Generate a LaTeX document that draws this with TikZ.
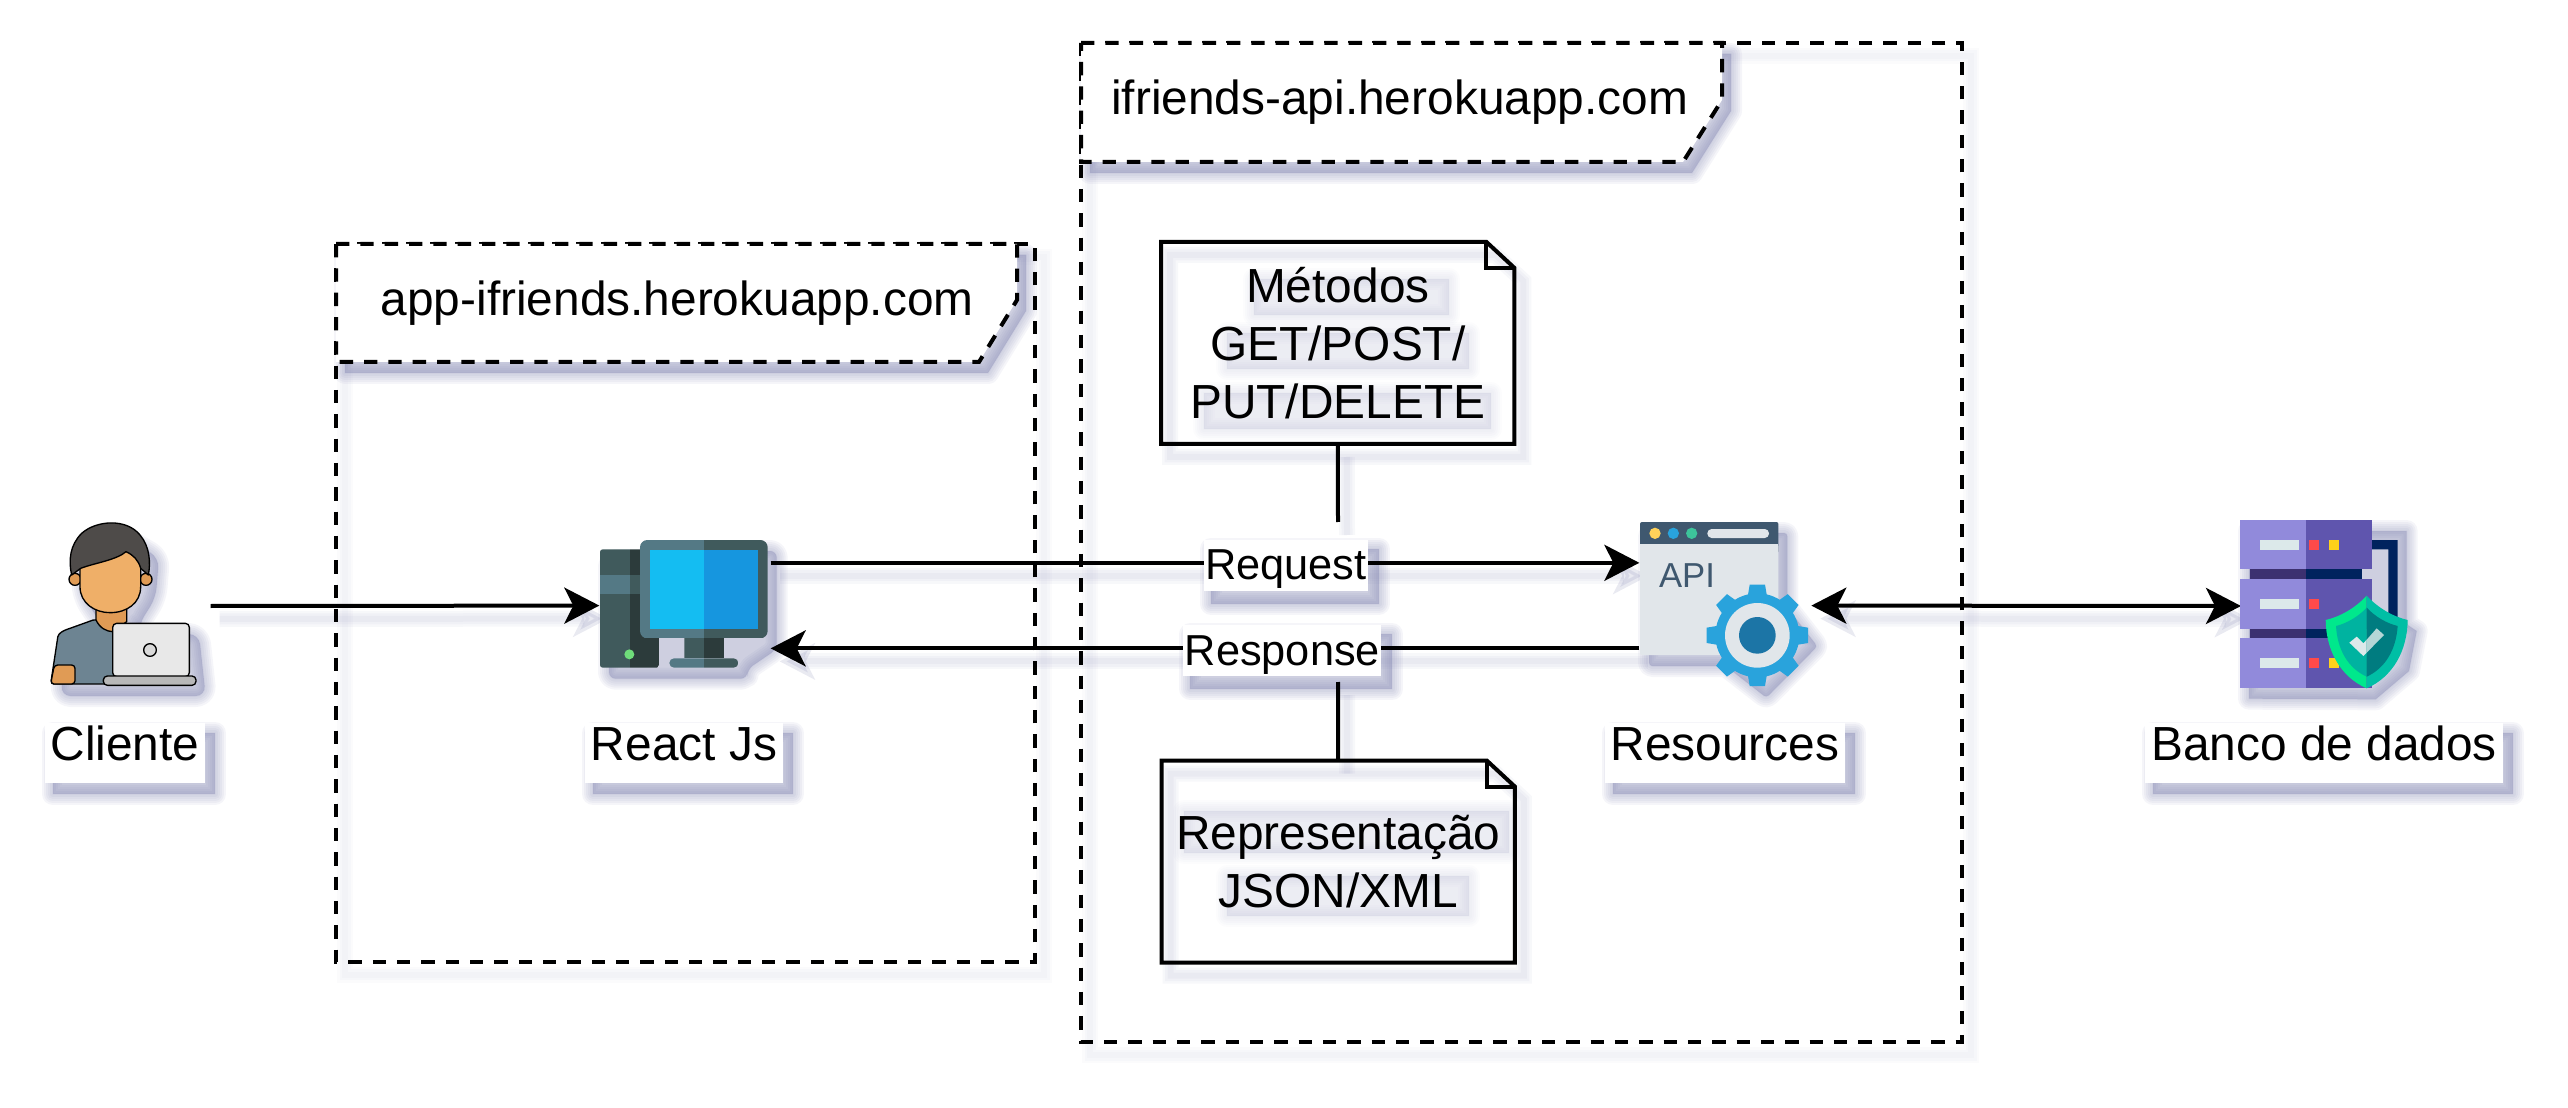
\documentclass[tikz,border=0pt]{standalone}
\usepackage{fontspec}
\setmainfont{Liberation Sans}
\usetikzlibrary{arrows.meta,calc}
\definecolor{shadowc}{HTML}{7478A8}
\definecolor{slateA}{HTML}{547985}
\definecolor{slateB}{HTML}{405A5C}
\definecolor{slateC}{HTML}{2C3B3B}
\definecolor{screenL}{HTML}{14BDF2}
\definecolor{screenR}{HTML}{1696DF}
\definecolor{ledgreen}{HTML}{6FDC7A}
\definecolor{apibar}{HTML}{3F586F}
\definecolor{apibody}{HTML}{E1E6EA}
\definecolor{dotY}{HTML}{FFD25A}
\definecolor{dotG}{HTML}{3DC49B}
\definecolor{gearc}{HTML}{29A3DC}
\definecolor{geardark}{HTML}{1C75A6}
\definecolor{plateL}{HTML}{918ADB}
\definecolor{plateR}{HTML}{5F55AE}
\definecolor{navyL}{HTML}{3C3070}
\definecolor{navyR}{HTML}{00235E}
\definecolor{ledR}{HTML}{FF4A4A}
\definecolor{ledY}{HTML}{FFD11A}
\definecolor{shieldA}{HTML}{00E88C}
\definecolor{shieldB}{HTML}{00BFA5}
\definecolor{shieldC}{HTML}{00B3A0}
\definecolor{shieldD}{HTML}{007C80}
\definecolor{pill}{HTML}{DCE9EA}
\definecolor{pilldark}{HTML}{B5D6D6}
\definecolor{shirt}{HTML}{6D8492}
\definecolor{skin}{HTML}{EFAF68}
\definecolor{skindark}{HTML}{E09B55}
\definecolor{hair}{HTML}{4E4B49}
\pgfdeclarelayer{sombra}
\pgfsetlayers{sombra,main}
\tikzset{
    wire/.style={line width=1.2pt},
    tip/.style={-{Stealth[length=10.5pt,width=10.8pt,inset=2.7pt]}},
    bothtips/.style={{Stealth[length=10.5pt,width=10.8pt,inset=2.7pt]}-{Stealth[length=10.5pt,width=10.8pt,inset=2.7pt]}},
    dashline/.style={line width=1.2pt,dash pattern=on 4pt off 3.3pt},
    iconbox/.style={inner sep=0pt,minimum width=#1},
    notebox/.style={inner sep=0pt,align=center,minimum width=105.6pt,minimum height=60.2pt},
    wirelabel/.style={fill=white,font=\fontsize{13}{15}\selectfont,inner xsep=.45pt,inner ysep=1.1pt,text height=10.9pt,text depth=2.1pt},
    iconlabel/.style={fill=white,anchor=north,inner ysep=0pt,inner xsep=1.8pt,text height=11.4pt,text depth=6.6pt},
    zoomed/.style={x=0.1pt,y=-0.1pt}
}
% blurred shadow of a filled shape
\newcommand{\softbox}[1]{\begin{pgfonlayer}{sombra}
    \foreach \w in {22,18,14,10,6,2}
        \filldraw[shadowc,opacity=.07,line width=\w*0.3pt,line join=round,transform canvas={xshift=2.7pt,yshift=-3.3pt}] #1;
    \end{pgfonlayer}}
% blurred shadow of a stroke
\newcommand{\softline}[2][]{\begin{pgfonlayer}{sombra}
    \foreach \w in {16,11,6}
        \draw[shadowc,opacity=.055,line width=\w*0.3pt,transform canvas={xshift=2.7pt,yshift=-3.9pt},#1] #2;
    \end{pgfonlayer}}
% shape split in two colours
\newcommand{\splitbox}[8]{\begin{scope}
    \clip[rounded corners=#8] (#1,#2) rectangle (#3,#4);
    \fill[#6] (#1,#2) rectangle (#5,#4);
    \fill[#7] (#5,#2) rectangle (#3,#4);
    \end{scope}}
% note with a folded corner
\newcommand{\foldnote}[1]{
    \coordinate (foldA) at ($(#1.north east)+(-28,0)$);
    \coordinate (foldB) at ($(#1.north east)+(0,26)$);
    \softline{(#1.north west) -- (foldA) -- (foldB) -- (#1.south east) -- (#1.south west) -- cycle}
    \draw[wire] (#1.north west) -- (foldA) -- (foldB) -- (#1.south east) -- (#1.south west) -- cycle;
    \draw[wire] (foldA) -- ($(foldA)+(0,26)$) -- (foldB);}
\begin{document}
\begin{tikzpicture}[x=0.3pt,y=-0.3pt,every node/.style={font=\fontsize{14.35}{17.4}\selectfont}]
    \useasboundingbox (0,0) rectangle (2568,1108);
    % react frame
    \softline[opacity=.03]{(336,244) rectangle (1035,961.5)}
    \draw[dashline] (336,244) rectangle (1035,961.5);
    \softbox{(336,244) -- (1017,244) -- (1017,300) -- (979,362) -- (336,362) -- cycle}
    \filldraw[dashline,fill=white] (336,244) -- (1017,244) -- (1017,300) -- (979,362) -- (336,362) -- cycle;
    \node[anchor=base west,inner sep=0pt] (reactTitle) at (380,316) {app-ifriends.herokuapp.com};
    % api frame
    \softline[opacity=.03]{(1081,43) rectangle (1962,1042)}
    \draw[dashline] (1081,43) rectangle (1962,1042);
    \softbox{(1081,43) -- (1722,43) -- (1722,100) -- (1683,162) -- (1081,162) -- cycle}
    \filldraw[dashline,fill=white] (1081,43) -- (1722,43) -- (1722,100) -- (1683,162) -- (1081,162) -- cycle;
    \node[anchor=base west,inner sep=0pt] (apiTitle) at (1110.5,115) {ifriends-api.herokuapp.com};
    % icon anchors
    \node[iconbox=54pt,minimum height=51pt] (cliente) at (120,606) {};
    \node[iconbox=51pt,minimum height=25.26pt] (react) at (685,605.6) {};
    \node[iconbox=51.2pt,minimum height=25.26pt] (api) at (1725.35,605.6) {};
    \node[iconbox=47pt,minimum height=51pt] (banco) at (2320,606) {};
    % notes
    \node[notebox] (metodos) at (1337.8,343) {Métodos\\GET/POST/\\PUT/DELETE};
    \node[notebox] (representacao) at (1338.2,861.6) {Representação\\JSON/XML};
    \foreach \xa/\ya/\xb/\yb in {1245/268/1440/304,1218/322/1460/358,1195/382/1482/418,1175/800/1500/842,1218/865/1460/905} {
        \softbox{[opacity=.025] (\xa,\ya) rectangle (\xb,\yb)}
    }
    \foldnote{metodos}
    \foldnote{representacao}
    \coordinate (metodosEnd) at (1338,522);
    \coordinate (representacaoEnd) at (1338,682);
    \softline{(metodos.south) -- (metodosEnd)}
    \softline{(representacao.north) -- (representacaoEnd)}
    \draw[wire] (metodos.south) -- (metodosEnd);
    \draw[wire] (representacao.north) -- (representacaoEnd);
    % connectors
    \softline[tip]{(cliente.east) -- (react.west)}
    \softline[tip]{(react.north east) -- (api.north west)}
    \softline[tip]{(api.south west) -- (react.south east)}
    \softline[bothtips]{(api.east) -- (banco.west)}
    \draw[wire,tip] (cliente.east) -- (react.west);
    \draw[wire,tip] (react.north east) -- (api.north west)
        node[wirelabel,pos=.593,yshift=-.7pt] (request) {Request};
    \draw[wire,tip] (api.south west) -- (react.south east)
        node[wirelabel,pos=.411,yshift=-.7pt] (response) {Response};
    \draw[wire,bothtips] (api.east) -- (banco.west);
    \softbox{(request.south west) rectangle (request.north east)}
    \softbox{(response.south west) rectangle (response.north east)}
    % icon labels
    \node[iconlabel] (clienteLabel) at (125,722) {Cliente};
    \node[iconlabel] (reactLabel) at (684,722) {React Js};
    \node[iconlabel] (apiLabel) at (1725,722) {Resources};
    \node[iconlabel] (bancoLabel) at (2324,722) {Banco de dados};
    \foreach \n in {clienteLabel,reactLabel,apiLabel,bancoLabel} {
        \softbox{(\n.south west) rectangle (\n.north east)}
    }
    % person
    \begin{scope}[shift={(20,500)},zoomed,line width=1.5pt,line join=round]
        \softbox{[rounded corners=3pt] (95,555) -- (112,410) -- (225,350) -- (165,260) -- (150,130) -- (270,70) -- (390,140) -- (380,260) -- (330,340) -- (330,365) -- (510,370) -- (530,555) -- cycle}
        \filldraw[fill=shirt,rounded corners=1pt] (92,552) -- (112,420) .. controls (115,400) and (130,392) .. (150,385) -- (228,357) -- (280,395) -- (290,552) -- cycle;
        \filldraw[fill=skindark,rounded corners=1pt] (92,552) -- (103,495) -- (165,495) -- (165,552) -- cycle;
        \filldraw[fill=skindark] (228,320) -- (228,360) .. controls (240,385) and (260,395) .. (280,395) -- (320,365) -- (320,320) -- cycle;
        \filldraw[fill=skindark] (165,238) circle (18);
        \filldraw[fill=skindark] (378,238) circle (18);
        \filldraw[fill=skin] (180,140) -- (180,260) .. controls (180,310) and (225,338) .. (270,338) .. controls (320,338) and (362,310) .. (362,260) -- (362,140) -- cycle;
        \filldraw[fill=hair] (155,225) .. controls (145,180) and (150,135) .. (185,100) .. controls (230,60) and (320,55) .. (360,105) .. controls (390,140) and (392,190) .. (385,225) -- (362,205) .. controls (355,180) and (340,165) .. (318,155) .. controls (290,180) and (220,190) .. (182,205) -- cycle;
        \filldraw[fill=black!9,rounded corners=1.2pt] (278,370) rectangle (508,530);
        \filldraw[fill=black!28,rounded corners=1.2pt] (250,528) rectangle (528,556);
        \filldraw[fill=black!15] (390,450) circle (19);
    \end{scope}
    % computer
    \begin{scope}[shift={(580,520)},zoomed]
        \softbox{[rounded corners=2pt] (60,88) -- (180,88) -- (180,60) -- (563,60) -- (563,355) -- (475,415) -- (475,443) -- (60,443) -- cycle}
        \splitbox{60}{88}{237}{443}{150}{slateB}{slateC}{.8pt}
        \fill[slateA] (60,165) rectangle (150,222);
        \fill[slateB] (150,165) rectangle (237,222);
        \fill[ledgreen] (148,403) circle (15);
        \splitbox{180}{60}{563}{355}{372}{slateA}{slateB}{2.2pt}
        \splitbox{209}{90}{534}{326}{372}{screenL}{screenR}{0pt}
        \splitbox{313}{355}{432}{415}{372}{slateB}{slateC}{0pt}
        \splitbox{268}{415}{475}{443}{372}{slateA}{slateB}{1.4pt}
    \end{scope}
    % api window
    \begin{scope}[shift={(1620,510)},zoomed]
        \softbox{[rounded corners=1pt] (60,36) -- (475,36) -- (475,260) -- (565,376) -- (412,530) -- (290,435) -- (60,435) -- cycle}
        \fill[apibar,rounded corners=.6pt] (60,36) rectangle (475,130);
        \fill[apibody,rounded corners=.6pt] (60,103) rectangle (475,435);
        \fill[apibody] (60,103) rectangle (475,130);
        \fill[dotY] (105,70) circle (17);
        \fill[gearc] (160,70) circle (17);
        \fill[dotG] (215,70) circle (17);
        \fill[apibody,rounded corners=1.3pt] (262,57) rectangle (447,84);
        \node[anchor=base west,inner sep=0pt,text=apibar,font=\fontsize{10.4}{12}\selectfont] (apiWord) at (115,232) {API};
        \begin{scope}[shift={(412,376)}]
            \foreach \a in {0,45,...,315}
                \fill[gearc,rotate=\a] (-23,-152) -- (23,-152) -- (30,-110) -- (-30,-110) -- cycle;
            \fill[gearc] (0,0) circle (126);
            \fill[apibody] (0,0) circle (97);
            \fill[geardark] (0,0) circle (55);
        \end{scope}
    \end{scope}
    % database
    \begin{scope}[shift={(2200,500)},zoomed]
        \softbox{(120,60) -- (593,60) -- (593,340) -- (623,360) -- (600,480) -- (500,565) -- (120,563) -- cycle}
        \fill[navyR] (515,120) -- (593,120) -- (593,360) -- (565,360) -- (565,148) -- (515,148) -- cycle;
        \foreach \y in {207,385} {
            \fill[navyL] (150,\y) rectangle (318,\y+31);
            \fill[navyR] (318,\y) rectangle (485,\y+31);
        }
        \foreach \y in {60,238,415} {
            \fill[plateL] (120,\y) rectangle (318,\y+148);
            \fill[plateR] (318,\y) rectangle (515,\y+148);
            \fill[pill] (180,\y+60) rectangle (298,\y+89);
            \fill[ledR] (328,\y+60) rectangle (358,\y+89);
        }
        \foreach \y in {60,415}
            \fill[ledY] (387,\y+60) rectangle (417,\y+89);
        % shield
        \fill[shieldA] (500,287) .. controls (465,325) and (420,350) .. (377,360) .. controls (378,450) and (420,530) .. (500,565) -- cycle;
        \fill[shieldB] (500,287) .. controls (535,325) and (580,350) .. (623,360) .. controls (622,450) and (580,530) .. (500,565) -- cycle;
        \fill[shieldC] (500,323) .. controls (475,350) and (440,370) .. (408,378) .. controls (412,450) and (445,505) .. (500,530) -- cycle;
        \fill[shieldD] (500,323) .. controls (525,350) and (560,370) .. (593,378) .. controls (588,450) and (555,505) .. (500,530) -- cycle;
        \fill[pill] (448,428) -- (470,410) -- (490,430) -- (500,419) -- (500,458) -- (490,468) -- cycle;
        \fill[pilldark] (500,419) -- (530,385) -- (552,405) -- (500,458) -- cycle;
    \end{scope}
\end{tikzpicture}
\end{document}
